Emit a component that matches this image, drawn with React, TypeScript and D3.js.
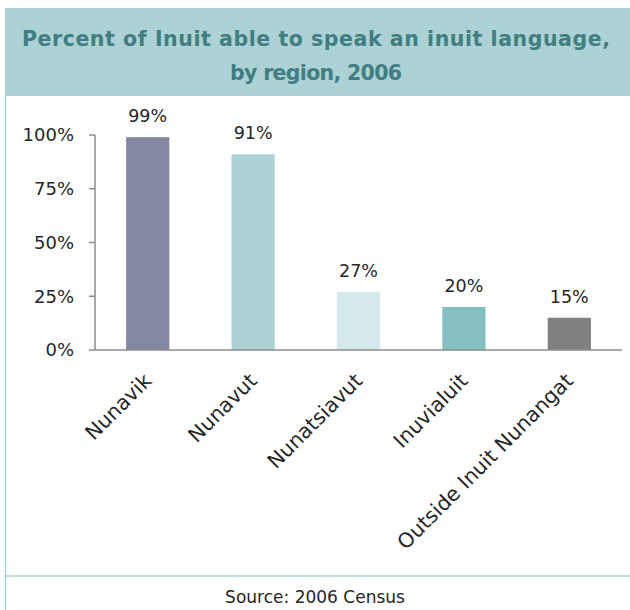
import React from "react";
import * as d3 from "d3";

const categories = ["Nunavik", "Nunavut", "Nunatsiavut", "Inuvialuit", "Outside Inuit Nunangat"];
const values = [99, 91, 27, 20, 15];
const barColors = ["#8588a2", "#acd2d5", "#d5e9ea", "#85bfc2", "#808080"];
const yTicks = [0, 25, 50, 75, 100];
const titleLines = ["Percent of Inuit able to speak an inuit language,", "by region, 2006"];
const titleWidths = [588, 172];
const sourceText = "Source: 2006 Census";

const W = 630;
const H = 610;
const font = "'DejaVu Sans', sans-serif";

export default function App() {
  const x = d3.scaleBand<string>().domain(categories).range([95, 622]).paddingInner(0.59).paddingOuter(0.295);
  const y = d3.scaleLinear().domain([0, 100]).range([350, 135]);
  const axisColor = "#8c8c8c";
  const textColor = "#262626";
  return (
    <svg width={W} height={H} style={{ position: "absolute", left: 0, top: 0, background: "#fff" }}>
      <rect x={5} y={8} width={W - 5} height={88} fill="#acd2d5" />
      <line x1={5.5} y1={96} x2={5.5} y2={H} stroke="#a9d0d3" strokeWidth={1.5} />
      <line x1={5} y1={576} x2={W} y2={576} stroke="#a9d0d3" strokeWidth={1.5} />
      {titleLines.map((t, i) => (
        <text key={i} x={316} y={46 + i * 34} textAnchor="middle" fontFamily={font} fontWeight="bold" fontSize={20.5} fill="#417e82" textLength={titleWidths[i]} lengthAdjust="spacing">
          {t}
        </text>
      ))}
      {categories.map((c, i) => (
        <rect key={c} x={x(c)} y={y(values[i])} width={x.bandwidth()} height={y(0) - y(values[i])} fill={barColors[i]} />
      ))}
      {categories.map((c, i) => (
        <text key={c} x={(x(c) as number) + x.bandwidth() / 2} y={y(values[i]) - 15} textAnchor="middle" fontFamily={font} fontSize={17.5} fill={textColor}>
          {values[i]}%
        </text>
      ))}
      <line x1={95} y1={y(100)} x2={95} y2={y(0)} stroke={axisColor} strokeWidth={1.5} />
      {yTicks.map((t) => (
        <g key={t}>
          <line x1={89} x2={95} y1={y(t)} y2={y(t)} stroke={axisColor} strokeWidth={1.5} />
          <text x={74} y={y(t)} dy="0.36em" textAnchor="end" fontFamily={font} fontSize={18} fill={textColor}>
            {t}%
          </text>
        </g>
      ))}
      <line x1={95} y1={y(0)} x2={622} y2={y(0)} stroke={axisColor} strokeWidth={1.5} />
      {categories.map((c) => {
        const cx = (x(c) as number) + x.bandwidth() / 2;
        return (
          <text key={c} transform={`translate(${cx},377) rotate(-45)`} dy="0.35em" textAnchor="end" fontFamily={font} fontSize={20.5} fill={textColor}>
            {c}
          </text>
        );
      })}
      <text x={315} y={597} dy="0.35em" textAnchor="middle" fontFamily={font} fontSize={17} fill={textColor}>
        {sourceText}
      </text>
    </svg>
  );
}
